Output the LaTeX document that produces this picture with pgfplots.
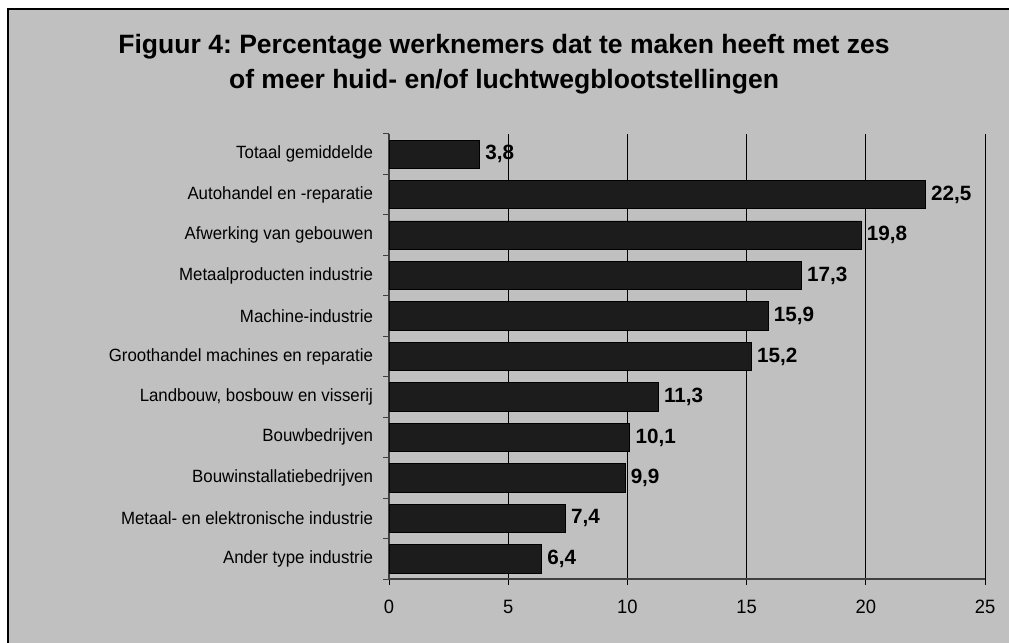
\documentclass[border=0pt]{standalone}
\usepackage{pgfplots}
\pgfplotsset{compat=1.18}
\usepackage{fontspec}
\setmainfont{Liberation Sans}
\newfontfamily\narrowfont[FakeStretch=0.95]{Liberation Sans}
\frenchspacing

\definecolor{bg}{HTML}{C0C0C0}
\definecolor{barc}{HTML}{1C1C1C}
\definecolor{axc}{HTML}{404040}

\pgfplotstableread{
idx val
0 3.8
1 22.5
2 19.8
3 17.3
4 15.9
5 15.2
6 11.3
7 10.1
8 9.9
9 7.4
10 6.4
}\datatable

\begin{document}
% 1 px of the reference = 0.75pt
\begin{tikzpicture}
\useasboundingbox (0,0) rectangle (756.75pt,481.5pt);
\clip (0,0) rectangle (756.75pt,481.5pt);
\fill[white] (0,0) rectangle (756.75pt,481.5pt);
\draw[line width=1.2pt, fill=bg] (6pt,474.75pt) rectangle (800pt,-20pt);

\node[anchor=base, inner sep=0pt, font=\fontsize{19.9pt}{24pt}\selectfont\bfseries]
  at (378pt,441pt) {Figuur 4: Percentage werknemers dat te maken heeft met zes};
\node[anchor=base, inner sep=0pt, font=\fontsize{19.9pt}{24pt}\selectfont\bfseries]
  at (378pt,414.75pt) {of meer huid- en/of luchtwegblootstellingen};

\begin{axis}[
  at={(291.75pt,47.25pt)}, anchor=south west,
  scale only axis,
  width=447pt, height=333.75pt,
  xbar, bar width=0.7,
  xmin=0, xmax=25,
  ymin=-0.5, ymax=10.5,
  y dir=reverse,
  axis lines*=left,
  axis line style={axc, line width=1.5pt},
  xtick={0,5,...,20},
  extra x ticks={25},
  extra x tick style={grid style={gray, line width=0.6pt}},
  ytick={-0.5,0.5,...,10.5},
  y tick label as interval,
  yticklabels={Totaal gemiddelde,Autohandel en -reparatie,Afwerking van gebouwen,Metaalproducten industrie,Machine-industrie,Groothandel machines en reparatie,{Landbouw, bosbouw en visserij},Bouwbedrijven,Bouwinstallatiebedrijven,Metaal- en elektronische industrie,Ander type industrie},
  tick align=outside,
  tick pos=left,
  major tick length=4.5pt,
  ytick style={draw=axc, line width=0.75pt},
  xtick style={draw=black, line width=0.75pt},
  xmajorgrids,
  major grid style={black, line width=0.6pt},
  xticklabel style={font=\narrowfont\fontsize{14.5pt}{16pt}\selectfont, yshift=-8pt},
  yticklabel style={font=\narrowfont\fontsize{13.3pt}{15pt}\selectfont, xshift=-4pt},
  /pgf/number format/assume math mode=true,
  nodes near coords,
  nodes near coords style={font=\fontsize{15.5pt}{18pt}\selectfont\bfseries, inner sep=4pt,
    /pgf/number format/.cd, fixed, precision=1, fixed zerofill, use comma, assume math mode=true},
]
\addplot[draw=black, line width=0.6pt, fill=barc] table[x=val, y=idx] {\datatable};
\end{axis}
\end{tikzpicture}
\end{document}
